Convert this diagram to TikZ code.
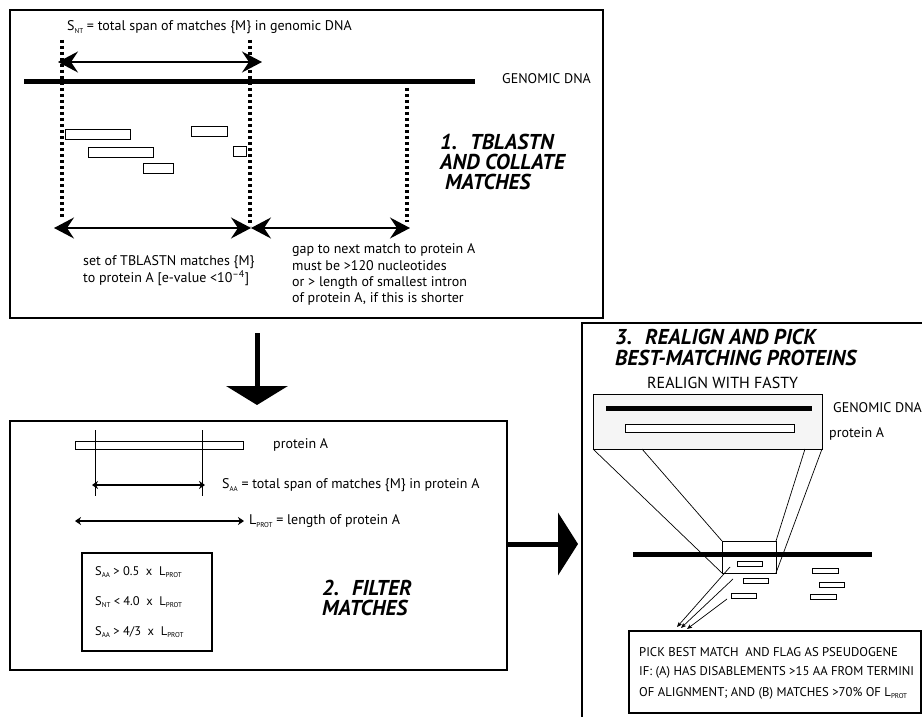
\documentclass[tikz,border=0pt]{standalone}
\usepackage{fontspec}
\setmainfont{PT Sans}
\usetikzlibrary{arrows.meta}
\newcommand{\lsub}[1]{\raisebox{-0.45ex}{\fontsize{7}{7}\selectfont #1}}
\begin{document}
\begin{tikzpicture}[x=1pt,y=-1pt,
  frame/.style={draw, line width=1.8pt},
  dna/.style={line width=5pt},
  bar/.style={draw, line width=0.8pt, fill=white},
  dotl/.style={line width=3.5pt, dash pattern=on 3pt off 3pt},
  bigarr/.style={line width=1.8pt, {Stealth[length=20pt,width=21pt,inset=7pt]}-{Stealth[length=20pt,width=21pt,inset=7pt]}},
  smarr/.style={line width=1.3pt, {Stealth[length=6pt,width=8pt,inset=2pt]}-{Stealth[length=6pt,width=8pt,inset=2pt]}},
  thinarr/.style={line width=0.7pt, -{Stealth[length=5pt,width=4pt,inset=1pt]}},
  blockarr/.style={line width=5pt},
  lbl/.style={anchor=west, inner sep=0pt, font=\fontsize{14}{16}\selectfont},
  crit/.style={anchor=west, inner sep=0pt, font=\fontsize{12.5}{14}\selectfont},
  caps/.style={anchor=west, inner sep=0pt, font=\fontsize{12.7}{14}\selectfont},
  ttl/.style={anchor=west, inner sep=0pt, font=\fontsize{21.5}{24}\selectfont\bfseries\itshape},
]
\useasboundingbox (0,0) rectangle (922,717);
\clip (0,0) rectangle (922,717);

% ---------------- Box 1 ----------------
\draw[frame] (10,10) rectangle (603,318);
\node[lbl] (snt) at (67,27) {S\lsub{NT} = total span of matches \{M\} in genomic DNA};
\coordinate (g1a) at (24,82);
\coordinate (g1b) at (475,82);
\draw[dna] (g1a) -- (g1b);
\node[lbl] (gdna1) at (502,79) {GENOMIC DNA};

% dotted guides
\coordinate (d1t) at (62,40);  \coordinate (d1b) at (62,219);
\coordinate (d2t) at (250,40); \coordinate (d2b) at (250,226);
\coordinate (d3t) at (407,88); \coordinate (d3b) at (407,222);
\draw[dotl] (d1t) -- (d1b);
\draw[dotl] (d2t) -- (d2b);
\draw[dotl] (d3t) -- (d3b);

% span arrows
\coordinate (a1l) at (58,62);  \coordinate (a1r) at (262,62);
\draw[bigarr] (a1l) -- (a1r);
\coordinate (b1l) at (54,228); \coordinate (b1m) at (251,228); \coordinate (b1r) at (410,228);
\draw[bigarr] (b1l) -- (b1m);
\draw[bigarr] (b1m) -- (b1r);

% match boxes
\draw[bar] (65,129) rectangle (130,139);
\draw[bar] (88,147) rectangle (153,157);
\draw[bar] (191,126) rectangle (227,136);
\draw[bar] (233,146) rectangle (246,156);
\draw[bar] (143,163) rectangle (173,173);

\node[ttl] (t1a) at (440,142) {1.~ TBLASTN};
\node[ttl] (t1b) at (440,162) {AND COLLATE};
\node[ttl] (t1c) at (445,182) {MATCHES};

\node[lbl] (setm1) at (83,262) {set of TBLASTN matches \{M\}};
\node[lbl] (setm2) at (83,278) {to protein A [e-value <10\textsuperscript{--4}]};
\node[lbl] (gap1) at (292,250) {gap to next match to protein A};
\node[lbl] (gap2) at (292,266) {must be >120 nucleotides};
\node[lbl] (gap3) at (292,283) {or > length of smallest intron};
\node[lbl] (gap4) at (292,299) {of protein A, if this is shorter};

% down arrow
\coordinate (da1) at (257,333);
\coordinate (da2) at (257,405);
\draw[blockarr, -{Triangle[length=19pt,width=61pt]}] (da1) -- (da2);

% ---------------- Box 2 ----------------
\draw[frame] (10,421) rectangle (507,670);
\draw[bar] (75,441) rectangle (243,449);
\node[lbl] (protA2) at (273,445) {protein A};
\coordinate (v1t) at (95,430); \coordinate (v1b) at (95,496);
\coordinate (v2t) at (202,430); \coordinate (v2b) at (202,496);
\draw[line width=0.7pt] (v1t) -- (v1b);
\draw[line width=0.7pt] (v2t) -- (v2b);
\coordinate (sa1) at (92,485); \coordinate (sa2) at (205,485);
\draw[smarr] (sa1) -- (sa2);
\node[lbl] (saa) at (222,485) {S\lsub{AA} = total span of matches \{M\} in protein A};
\coordinate (lp1) at (75,521); \coordinate (lp2) at (244,521);
\draw[smarr] (lp1) -- (lp2);
\node[lbl] (lprot) at (249,521) {L\lsub{PROT} = length of protein A};

\draw[frame] (82,553) rectangle (212,651);
\node[crit] (c1) at (95,572) {S\lsub{AA} > 0.5 ~x~ L\lsub{PROT}};
\node[crit] (c2) at (95,602) {S\lsub{NT} < 4.0 ~x~ L\lsub{PROT}};
\node[crit] (c3) at (95,632) {S\lsub{AA} > 4/3 ~x~ L\lsub{PROT}};

\node[ttl] (t2a) at (322,588) {2.~ FILTER};
\node[ttl] (t2b) at (322,608) {MATCHES};

% right arrow
\coordinate (ra1) at (507,544);
\coordinate (ra2) at (578,544);
\draw[blockarr, -{Triangle[length=20pt,width=62pt]}] (ra1) -- (ra2);

% ---------------- Box 3 ----------------
\draw[frame] (582,740) -- (582,323) -- (940,323);
\node[ttl] (t3a) at (615,337) {3.~ REALIGN AND PICK};
\node[ttl] (t3b) at (615,358) {BEST-MATCHING PROTEINS};
\node[lbl, font=\fontsize{16}{18}\selectfont] (fasty) at (647,383) {REALIGN WITH FASTY};

\draw[line width=0.8pt, fill=black!4] (593,394) rectangle (822,449);
\coordinate (g3a) at (606,408); \coordinate (g3b) at (812,408);
\draw[dna] (g3a) -- (g3b);
\draw[bar] (625,424) rectangle (794,432);
\node[lbl] (gdna3) at (833,408) {GENOMIC DNA};
\node[lbl] (protA3) at (829,434) {protein A};

% zoom box and projection lines
\draw[line width=0.8pt] (722,541) rectangle (776,573);
\draw[line width=0.7pt] (593,449) -- (722,573);
\draw[line width=0.7pt] (642,449) -- (722,541);
\draw[line width=0.7pt] (822,449) -- (776,573);
\draw[line width=0.7pt] (805,449) -- (776,541);

\coordinate (g4a) at (633,554); \coordinate (g4b) at (872,554);
\draw[dna] (g4a) -- (g4b);

\draw[bar] (737,561) rectangle (762,566);
\draw[bar] (743,578) rectangle (768,583);
\draw[bar] (731,593) rectangle (756,598);
\draw[bar] (812,568) rectangle (838,573);
\draw[bar] (819,582) rectangle (844,587);
\draw[bar] (810,594) rectangle (836,599);

\coordinate (m1) at (730,567); \coordinate (e1) at (677,627);
\coordinate (m2) at (733,579); \coordinate (e2) at (681,628);
\coordinate (m3) at (727,599); \coordinate (e3) at (687,629);
\draw[thinarr] (m1) -- (e1);
\draw[thinarr] (m2) -- (e2);
\draw[thinarr] (m3) -- (e3);

\draw[frame] (629,631) rectangle (921,713);
\node[caps] (p1) at (639,652) {PICK BEST MATCH ~AND FLAG AS PSEUDOGENE};
\node[caps] (p2) at (639,672) {IF: (A) HAS DISABLEMENTS >15 AA FROM TERMINI};
\node[caps] (p3) at (639,693) {OF ALIGNMENT; AND (B) MATCHES >70\% OF L\lsub{PROT}};
\end{tikzpicture}
\end{document}
